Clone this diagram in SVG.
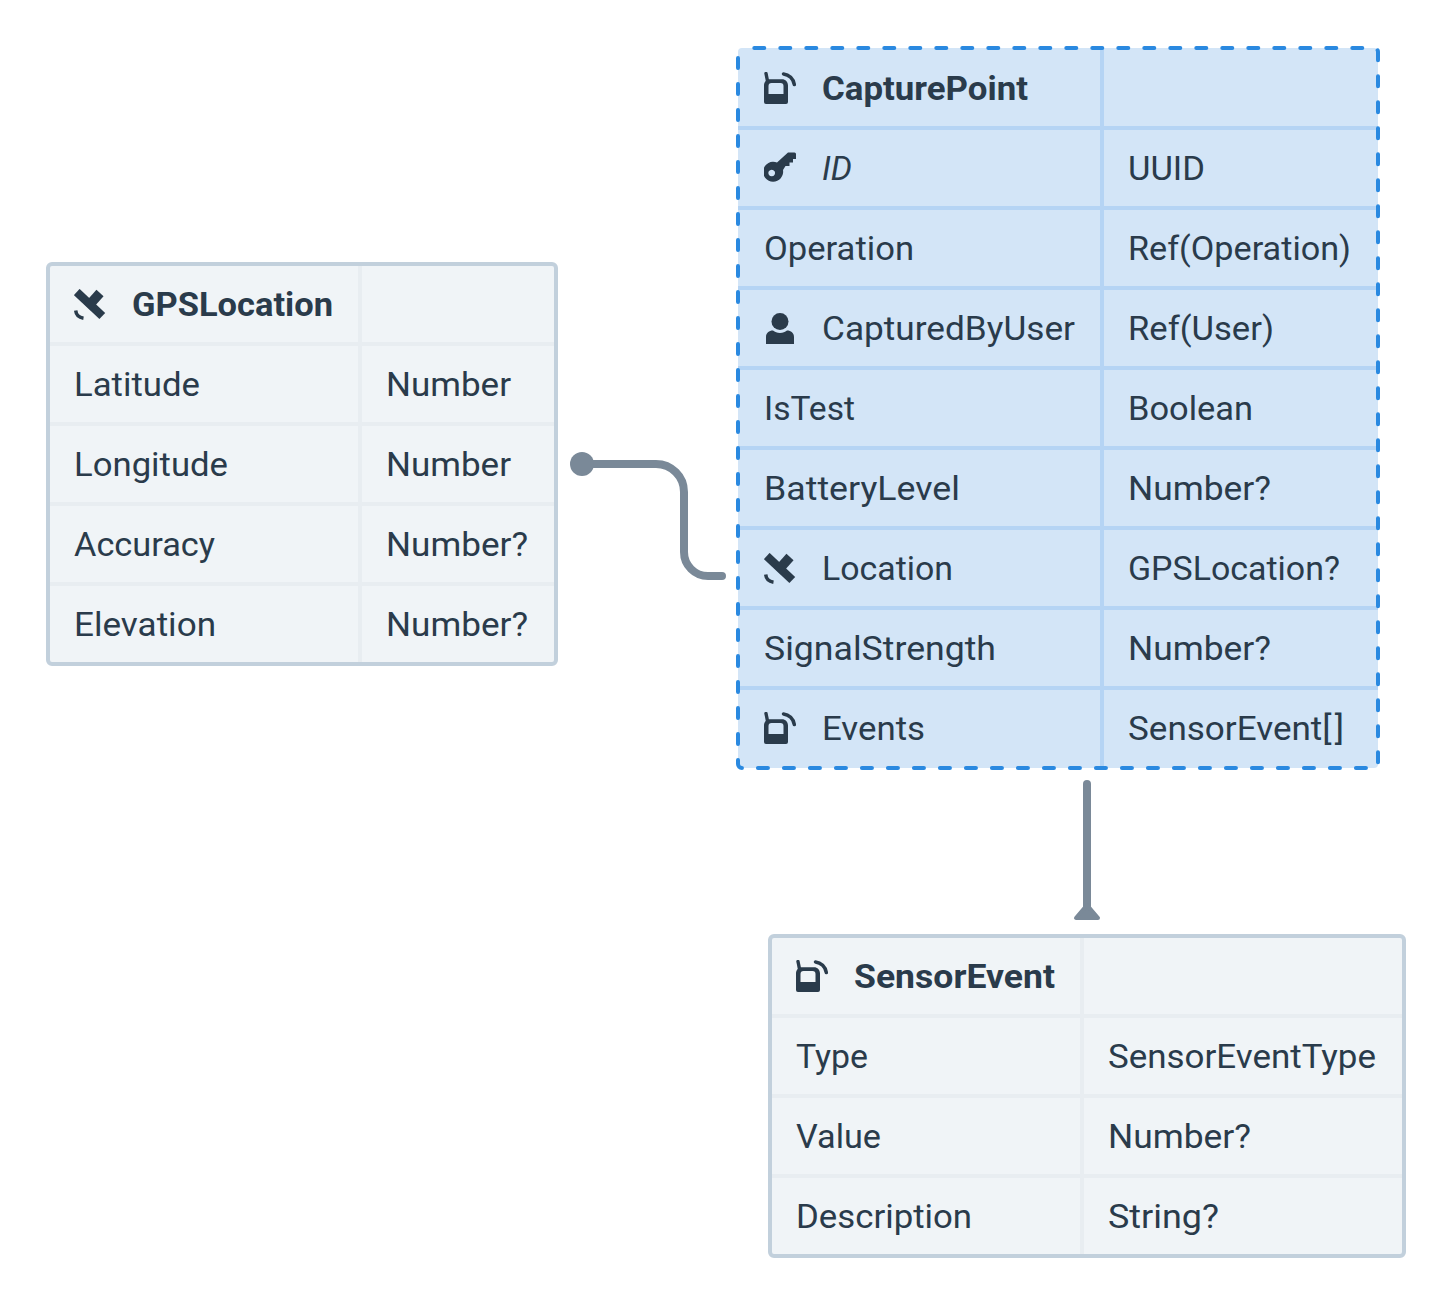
<svg xmlns="http://www.w3.org/2000/svg" width="1452" height="1304" viewBox="0 0 1452 1304">
<style>
text{font-family:"Roboto","Liberation Sans",sans-serif;font-size:33.5px;fill:#2a3b4b}
.t{font-weight:700}
.i{font-style:italic}
.box{fill:#f0f4f7;stroke:#c2d0dc;stroke-width:4}
.row{fill:none;stroke:#e8edf1;stroke-width:4}
.sel{fill:#d3e5f7}
.selrow{fill:none;stroke:#b5d4f4;stroke-width:4}
.dash{fill:none;stroke:#2a89e0;stroke-width:4;stroke-linecap:round;stroke-dasharray:10 16;stroke-dashoffset:-12.300}
.conn{fill:none;stroke:#7a8998;stroke-width:8;stroke-linecap:round}
.ic{fill:#2a3b4b}
.ics{fill:none;stroke:#2a3b4b}
</style>
<defs>
<symbol id="sensor" viewBox="0 0 32 32" width="32" height="32">
<path class="ic" fill-rule="evenodd" d="M6 7.300H18C21.500 7.300 24 10 24 13.500V30a2 2 0 0 1-2 2H2a2 2 0 0 1-2-2V13.500C0 10 2.500 7.300 6 7.300ZM4.500 14V22H19.500V14C19.500 12 18.500 11 16.500 11H7.500C5.500 11 4.500 12 4.500 14Z"/>
<path class="ics" d="M2 1.500L3.500 9" stroke-width="3.400" stroke-linecap="round"/>
<path class="ics" d="M19.500 1.900C25 2.500 29.500 7 30.300 12.500" stroke-width="3.500" stroke-linecap="round"/>
</symbol>
<symbol id="key" viewBox="0 0 32 32" width="32" height="32">
<path class="ic" fill-rule="evenodd" d="M13 10.500L24 .5H30.500Q32 .5 32 2V7H29V10.500H25.500V14H21.500L19 18A10 10 0 1 1 13 10.500ZM7.700 17.700a3.300 3.300 0 1 0 .01 0Z"/>
</symbol>
<symbol id="sat" viewBox="0 0 32 32" width="32" height="32">
<path class="ics" d="M2.700 3L28.300 27" stroke-width="8.500"/>
<path class="ics" d="M26 4L13.500 18" stroke-width="9.500"/>
<path class="ics" d="M1.700 21.500C2 25.500 5 28.600 9.500 29.300" stroke-width="3.500"/>
</symbol>
<symbol id="person" viewBox="0 0 32 32" width="32" height="32">
<circle class="ic" cx="16" cy="9.500" r="8.500"/>
<path class="ic" d="M2 32V25C2 21 5 18.500 9 18.500C11 20 13 21 16 21S21 20 23 18.500C27 18.500 30 21 30 25V32Z"/>
</symbol>
</defs>

<g id="connectors">
<path class="conn" d="M582 464H656A28 28 0 0 1 684 492V552A24 24 0 0 0 708 576H722"/>
<circle cx="582" cy="464" r="12" fill="#7a8998"/>
<path class="conn" d="M1087 784V912"/>
<path d="M1087 905L1076 918H1098Z" fill="#7a8998" stroke="#7a8998" stroke-width="4" stroke-linejoin="round"/>
</g>

<g id="GPSLocation">
<rect class="box" x="48" y="264" width="508" height="400" rx="4"/>
<path class="row" d="M50 344H554M50 424H554M50 504H554M50 584H554M360 266V662"/>
<use href="#sat" x="74" y="289"/>
<text class="t" x="132" y="316" textLength="201" lengthAdjust="spacingAndGlyphs">GPSLocation</text>
<text x="74" y="396" textLength="126" lengthAdjust="spacingAndGlyphs">Latitude</text>
<text x="386" y="396" textLength="125" lengthAdjust="spacingAndGlyphs">Number</text>
<text x="74" y="476" textLength="154" lengthAdjust="spacingAndGlyphs">Longitude</text>
<text x="386" y="476" textLength="125" lengthAdjust="spacingAndGlyphs">Number</text>
<text x="74" y="556" textLength="141" lengthAdjust="spacingAndGlyphs">Accuracy</text>
<text x="386" y="556" textLength="142" lengthAdjust="spacingAndGlyphs">Number?</text>
<text x="74" y="636" textLength="142" lengthAdjust="spacingAndGlyphs">Elevation</text>
<text x="386" y="636" textLength="142" lengthAdjust="spacingAndGlyphs">Number?</text>
</g>

<g id="CapturePoint">
<rect class="sel" x="738" y="48" width="640" height="720" rx="4"/>
<path class="selrow" d="M738 128H1378M738 208H1378M738 288H1378M738 368H1378M738 448H1378M738 528H1378M738 608H1378M738 688H1378M1102 48V768"/>
<rect class="dash" x="738" y="48" width="640" height="720" rx="4"/>
<use href="#sensor" x="764" y="72"/>
<text class="t" x="822" y="100" textLength="206" lengthAdjust="spacingAndGlyphs">CapturePoint</text>
<use href="#key" x="764" y="152"/>
<text class="i" x="822" y="180" textLength="30" lengthAdjust="spacingAndGlyphs">ID</text>
<text x="1128" y="180" textLength="77" lengthAdjust="spacingAndGlyphs">UUID</text>
<text x="764" y="260" textLength="150" lengthAdjust="spacingAndGlyphs">Operation</text>
<text x="1128" y="260" textLength="223" lengthAdjust="spacingAndGlyphs">Ref(Operation)</text>
<use href="#person" x="764" y="312"/>
<text x="822" y="340" textLength="253" lengthAdjust="spacingAndGlyphs">CapturedByUser</text>
<text x="1128" y="340" textLength="146" lengthAdjust="spacingAndGlyphs">Ref(User)</text>
<text x="764" y="420" textLength="91" lengthAdjust="spacingAndGlyphs">IsTest</text>
<text x="1128" y="420" textLength="125" lengthAdjust="spacingAndGlyphs">Boolean</text>
<text x="764" y="500" textLength="196" lengthAdjust="spacingAndGlyphs">BatteryLevel</text>
<text x="1128" y="500" textLength="143" lengthAdjust="spacingAndGlyphs">Number?</text>
<use href="#sat" x="764" y="553"/>
<text x="822" y="580" textLength="131" lengthAdjust="spacingAndGlyphs">Location</text>
<text x="1128" y="580" textLength="212" lengthAdjust="spacingAndGlyphs">GPSLocation?</text>
<text x="764" y="660" textLength="232" lengthAdjust="spacingAndGlyphs">SignalStrength</text>
<text x="1128" y="660" textLength="143" lengthAdjust="spacingAndGlyphs">Number?</text>
<use href="#sensor" x="764" y="712"/>
<text x="822" y="740" textLength="103" lengthAdjust="spacingAndGlyphs">Events</text>
<text x="1128" y="740" textLength="216" lengthAdjust="spacingAndGlyphs">SensorEvent[<tspan dx="3">]</tspan></text>
</g>

<g id="SensorEvent">
<rect class="box" x="770" y="936" width="634" height="320" rx="4"/>
<path class="row" d="M772 1016H1402M772 1096H1402M772 1176H1402M1082 938V1254"/>
<use href="#sensor" x="796" y="960"/>
<text class="t" x="854" y="988" textLength="201" lengthAdjust="spacingAndGlyphs">SensorEvent</text>
<text x="796" y="1068" textLength="72" lengthAdjust="spacingAndGlyphs">Type</text>
<text x="1108" y="1068" textLength="268" lengthAdjust="spacingAndGlyphs">SensorEventType</text>
<text x="796" y="1148" textLength="85" lengthAdjust="spacingAndGlyphs">Value</text>
<text x="1108" y="1148" textLength="143" lengthAdjust="spacingAndGlyphs">Number?</text>
<text x="796" y="1228" textLength="176" lengthAdjust="spacingAndGlyphs">Description</text>
<text x="1108" y="1228" textLength="111" lengthAdjust="spacingAndGlyphs">String?</text>
</g>
</svg>
